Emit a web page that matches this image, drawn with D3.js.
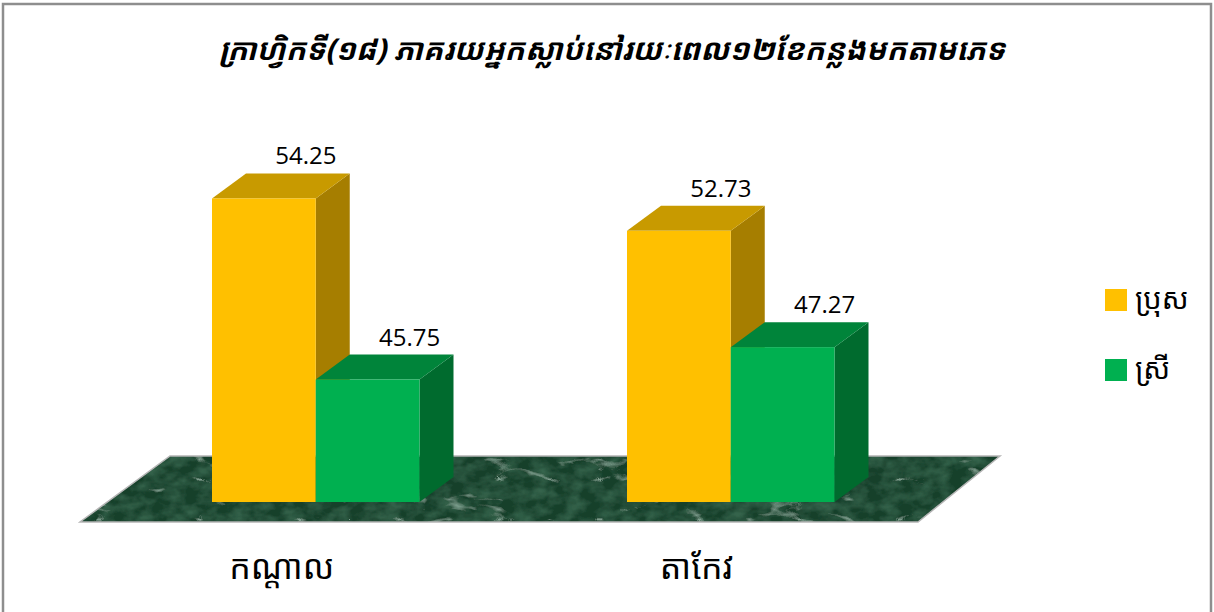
<!DOCTYPE html>
<html>
<head>
<meta charset="utf-8">
<script src="https://cdn.jsdelivr.net/npm/d3@7"></script>
<style>
  body { margin: 0; background: #fff; }
  svg { display: block; }
</style>
</head>
<body>
<div id="chart"></div>
<script>
// data
var title = "ក្រាហ្វិកទី(១៨) ភាគរយអ្នកស្លាប់នៅរយៈពេល១២ខែកន្លងមកតាមភេទ";
var provinces = ["កណ្ដាល", "តាកែវ"];
var sexes = ["ប្រុស", "ស្រី"];
var male = [54.25, 52.73];
var female = [45.75, 47.27];

var W = 1214, H = 612;
var khmer = "'Noto Sans Khmer', 'Khmer OS', 'Noto Sans', sans-serif";
var svg = d3.select('#chart').append('svg')
    .attr('width', W)
    .attr('height', H);

// marble texture for the floor
var defs = svg.append('defs');
var f = defs.append('filter').attr('id', 'marble')
    .attr('x', 0).attr('y', 0).attr('width', 1).attr('height', 1);
f.append('feTurbulence')
    .attr('type', 'fractalNoise')
    .attr('baseFrequency', '0.06 0.09')
    .attr('numOctaves', 3)
    .attr('seed', 2)
    .attr('result', 'mottle');
f.append('feColorMatrix')
    .attr('in', 'mottle')
    .attr('type', 'matrix')
    .attr('values', '0 0 0 0 0.04  0 0 0 0 0.14  0 0 0 0 0.08  1.6 0 0 0 -0.55')
    .attr('result', 'm');
f.append('feTurbulence')
    .attr('type', 'turbulence')
    .attr('baseFrequency', '0.01 0.025')
    .attr('numOctaves', 4)
    .attr('seed', 7)
    .attr('result', 'n');
f.append('feColorMatrix')
    .attr('in', 'n')
    .attr('type', 'matrix')
    .attr('values', '0 0 0 0 0.33  0 0 0 0 0.52  0 0 0 0 0.42  -5 0 0 0 0.6')
    .attr('result', 'v');
f.append('feMerge').call(function(mg) {
    mg.append('feMergeNode').attr('in', 'SourceGraphic');
    mg.append('feMergeNode').attr('in', 'm');
    mg.append('feMergeNode').attr('in', 'v');
});
f.append('feComposite')
    .attr('in2', 'SourceGraphic').attr('operator', 'in');

// outer frame
svg.append('rect')
    .attr('x', 3).attr('y', 4)
    .attr('width', W - 6).attr('height', H + 10)
    .attr('fill', 'none')
    .attr('stroke', '#8e8e8e')
    .attr('stroke-width', 2.5);

// title
svg.append('text')
    .attr('x', 612).attr('y', 60)
    .attr('text-anchor', 'middle')
    .attr('font-family', khmer)
    .attr('font-style', 'italic')
    .attr('font-weight', 'bold')
    .attr('font-size', 30)
    .attr('fill', '#000')
    .text(title);

// scales
var y = d3.scaleLinear().domain([40, 60]).range([502, 76]);
var x0 = d3.scaleBand().domain(provinces).range([108.25, 938.25])
    .paddingInner(0.5).paddingOuter(0.25);
var x1 = d3.scaleBand().domain(sexes).range([0, x0.bandwidth()]);

var dx = 34, dy = -25;

// floor
var floorTop = 456, floorBot = 522;
var floorPts = [[170, floorTop], [1000, floorTop], [918, floorBot], [80, floorBot]].join(' ');
svg.append('polygon')
    .attr('points', floorPts)
    .attr('fill', '#163f2a')
    .attr('filter', 'url(#marble)');
svg.append('polygon')
    .attr('points', floorPts)
    .attr('fill', 'none')
    .attr('stroke', '#b5b5b5')
    .attr('stroke-width', 1.5);

var colors = {
    'ប្រុស': { front: '#FFC000', top: '#C89A00', side: '#A67E00' },
    'ស្រី': { front: '#00B050', top: '#00843A', side: '#006B2E' }
};

var rows = [];
provinces.forEach(function(p, i) {
    rows.push({ prov: p, sex: sexes[0], value: male[i] });
    rows.push({ prov: p, sex: sexes[1], value: female[i] });
});

var bars = svg.append('g');
rows.forEach(function(d) {
    var xl = x0(d.prov) + x1(d.sex);
    var xr = xl + x1.bandwidth();
    var yt = y(d.value), yb = y(40);
    var c = colors[d.sex];
    var g = bars.append('g');
    // side
    g.append('polygon')
        .attr('points', [[xr, yt], [xr + dx, yt + dy], [xr + dx, yb + dy], [xr, yb]].join(' '))
        .attr('fill', c.side);
    // top
    g.append('polygon')
        .attr('points', [[xl, yt], [xl + dx, yt + dy], [xr + dx, yt + dy], [xr, yt]].join(' '))
        .attr('fill', c.top);
    // front
    g.append('rect')
        .attr('x', xl).attr('y', yt)
        .attr('width', xr - xl).attr('height', yb - yt)
        .attr('fill', c.front);
    // value label
    g.append('text')
        .attr('x', (xl + xr) / 2 + 42)
        .attr('y', yt + dy - 9)
        .attr('text-anchor', 'middle')
        .attr('font-family', "'Open Sans', sans-serif")
        .attr('font-size', 24)
        .attr('fill', '#000')
        .text(d.value.toFixed(2));
});

// category labels
svg.selectAll('.cat')
    .data(provinces)
    .enter().append('text')
    .attr('class', 'cat')
    .attr('x', function(d) { return x0(d) + x0.bandwidth() / 2 - 34; })
    .attr('y', 579)
    .attr('text-anchor', 'middle')
    .attr('font-family', khmer)
    .attr('font-size', 34)
    .attr('fill', '#000')
    .text(function(d) { return d; });

// legend
var leg = svg.selectAll('.leg')
    .data(sexes)
    .enter().append('g')
    .attr('class', 'leg')
    .attr('transform', function(d, i) { return 'translate(1105,' + (289 + i * 70) + ')'; });
leg.append('rect')
    .attr('width', 22).attr('height', 22)
    .attr('fill', function(d) { return colors[d].front; });
leg.append('text')
    .attr('x', 30).attr('y', 20)
    .attr('font-family', khmer)
    .attr('font-size', 29)
    .attr('fill', '#000')
    .text(function(d) { return d; });
</script>
</body>
</html>
